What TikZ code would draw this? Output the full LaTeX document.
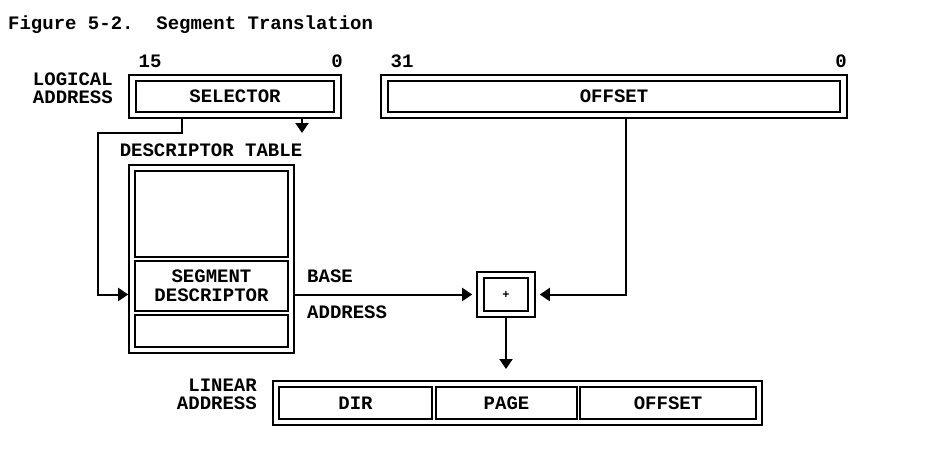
\documentclass[tikz,border=0pt]{standalone}
\usepackage{fontspec}
\setmonofont{Liberation Mono}
\usepackage{tikz}
\usetikzlibrary{arrows.meta,fit}

\begin{document}
\begin{tikzpicture}[x=1pt,y=-1pt,
  font=\ttfamily\bfseries\fontsize{19}{17}\selectfont,
  lbl/.style={inner sep=0pt},
  field/.style={draw,line width=1.8pt,inner sep=0pt},
  frame/.style={draw,line width=1.8pt,inner xsep=6pt,inner ysep=5pt},
  conn/.style={line width=2pt},
  arr/.style={conn,-{Triangle[length=10pt,width=13pt]}}]
\useasboundingbox (0,0) rectangle (936,451);

% TITLE
  \node[lbl,anchor=west] (title) at (8,25) {Figure 5-2.~~Segment Translation};

% LOGICAL ADDRESS
  \node[field,minimum width=198pt,minimum height=31pt] (sel) at (235,96.5) {SELECTOR};
  \node[frame,fit=(sel)] (selF) {};
  \node[field,minimum width=452pt,minimum height=31pt] (off) at (614,96.5) {OFFSET};
  \node[frame,fit=(off)] (offF) {};
  \node[lbl,anchor=east] (logical) at (113,79.5) {LOGICAL};
  \node[lbl,anchor=east] (laddr) at (113,97.5) {ADDRESS};
  \node[lbl] (s15) at (150,61) {15};
  \node[lbl] (s0) at (337,61) {0};
  \node[lbl] (o31) at (402,61) {31};
  \node[lbl] (o0) at (841,61) {0};

% DESCRIPTOR TABLE
  \node[lbl] (dtlabel) at (211,150) {DESCRIPTOR TABLE};
  \node[field,minimum width=153pt,minimum height=86pt] (dtop) at (211.5,214) {};
  \node[field,minimum width=153pt,minimum height=50pt,align=center] (segd) at (211.5,286) {SEGMENT\\[2pt]DESCRIPTOR};
  \node[field,minimum width=153pt,minimum height=32pt] (dbot) at (211.5,331) {};
  \node[frame,inner xsep=5pt,fit=(dtop)(dbot)] (dtF) {};
  \node[lbl,anchor=west] (base) at (307,276) {BASE};
  \node[lbl,anchor=west] (baddr) at (307,312) {ADDRESS};

% ADDER
  \node[field,minimum width=44pt,minimum height=33pt,font=\ttfamily\bfseries\fontsize{12}{12}\selectfont] (plus) at (506,294.5) {+};
  \node[frame,fit=(plus)] (plusF) {};

% LINEAR ADDRESS
  \node[field,minimum width=153pt,minimum height=32pt] (dir) at (355.5,403) {DIR};
  \node[field,minimum width=141pt,minimum height=32pt] (page) at (506.5,403) {PAGE};
  \node[field,minimum width=176pt,minimum height=32pt] (loff) at (668,403) {OFFSET};
  \node[frame,inner xsep=5pt,fit=(dir)(loff)] (linF) {};
  \node[lbl,anchor=east] (linear) at (257,385) {LINEAR};
  \node[lbl,anchor=east] (lnaddr) at (257,403) {ADDRESS};

% CONNECTORS
  \coordinate (dtarrow) at (302,133);
  \draw[arr] (selF.south -| dtarrow) -- (dtarrow);
  \draw[arr] ([xshift=-53]selF.south) |- (98,133) |- (dtF.west |- plus);
  \draw[arr,shorten >=4pt] (dtF.east |- plus) -- (plusF.west);
  \draw[arr,shorten >=4pt] ([xshift=12]offF.south) |- (plusF.east);
  \coordinate (lintop) at (506,369);
  \draw[arr] (plusF.south) -- (lintop);

\end{tikzpicture}
\end{document}
